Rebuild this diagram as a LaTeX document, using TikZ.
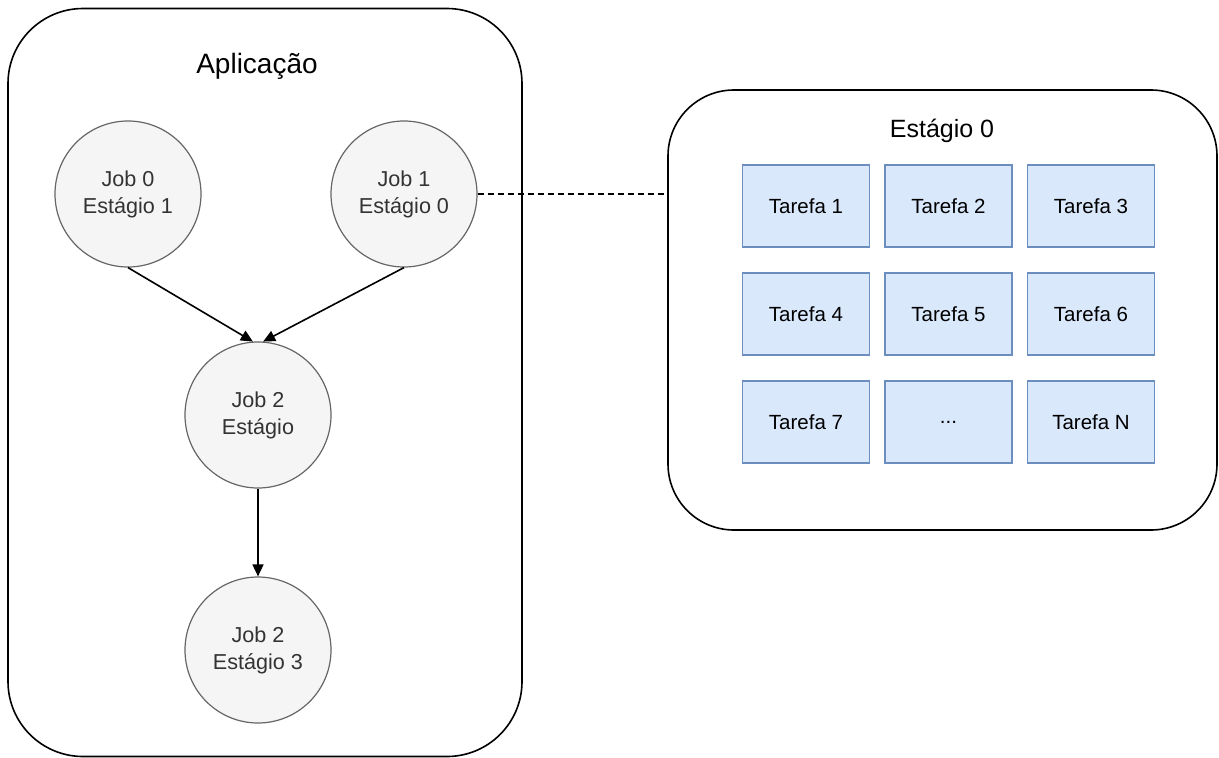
\documentclass[tikz,border=0pt]{standalone}
\usepackage{fontspec}
\setmainfont{Liberation Sans}
\usetikzlibrary{arrows.meta}
\definecolor{cfill}{HTML}{F5F5F5}
\definecolor{cdraw}{HTML}{666666}
\definecolor{ctext}{HTML}{333333}
\definecolor{tfill}{HTML}{DAE8FC}
\definecolor{tdraw}{HTML}{6C8EBF}
\begin{document}
\begin{tikzpicture}[x=1pt,y=-1pt,
  container/.style={draw=black,line width=1.6pt,inner sep=0pt},
  title/.style={anchor=base,inner sep=0pt},
  job/.style={circle,draw=cdraw,fill=cfill,line width=1.2pt,minimum size=146pt,inner sep=0pt,text=ctext,align=center,font=\fontsize{21.6}{27}\selectfont},
  task/.style={draw=tdraw,fill=tfill,line width=1.6pt,minimum width=127pt,minimum height=82pt,inner sep=0pt,font=\fontsize{20.5}{24}\selectfont},
  flow/.style={draw=black,line width=1.6pt,-{Triangle[length=12pt,width=11pt]}},
  link/.style={draw=black,line width=1.5pt,dash pattern=on 6pt off 4pt}]
\useasboundingbox (0,0) rectangle (1219,758);
% containers
\node[container,rounded corners=75pt,minimum width=514pt,minimum height=748pt] (app) at (265,382.5) {};
\node[container,rounded corners=66pt,minimum width=549pt,minimum height=440pt] (stage) at (942.5,310) {};
\node[title,font=\fontsize{28}{34}\selectfont] (apptitle) at (257,73) {Aplicação};
\node[title,font=\fontsize{25}{30}\selectfont] (stagetitle) at (942,137) {Estágio 0};
% jobs
\node[job] (j0) at (128,194) {Job 0\\Estágio 1};
\node[job] (j1) at (404,194) {Job 1\\Estágio 0};
\node[job] (j2) at (258,415) {Job 2\\Estágio};
\node[job] (j3) at (258,650) {Job 2\\Estágio 3};
% tasks
\node[task] (t1) at (806,206) {Tarefa 1};
\node[task] (t2) at (948.5,206) {Tarefa 2};
\node[task] (t3) at (1091,206) {Tarefa 3};
\node[task] (t4) at (806,314) {Tarefa 4};
\node[task] (t5) at (948.5,314) {Tarefa 5};
\node[task] (t6) at (1091,314) {Tarefa 6};
\node[task] (t7) at (806,422) {Tarefa 7};
\node[task] (t8) at (948.5,422) {...};
\node[task] (t9) at (1091,422) {Tarefa N};
% connectors
\draw[flow] (j0.south) -- (j2.94);
\draw[flow] (j1.south) -- (j2.86);
\draw[flow] (j2.south) -- (j3.north);
\draw[link] (j1.east) -- (stage.west |- j1.east);
\end{tikzpicture}
\end{document}
